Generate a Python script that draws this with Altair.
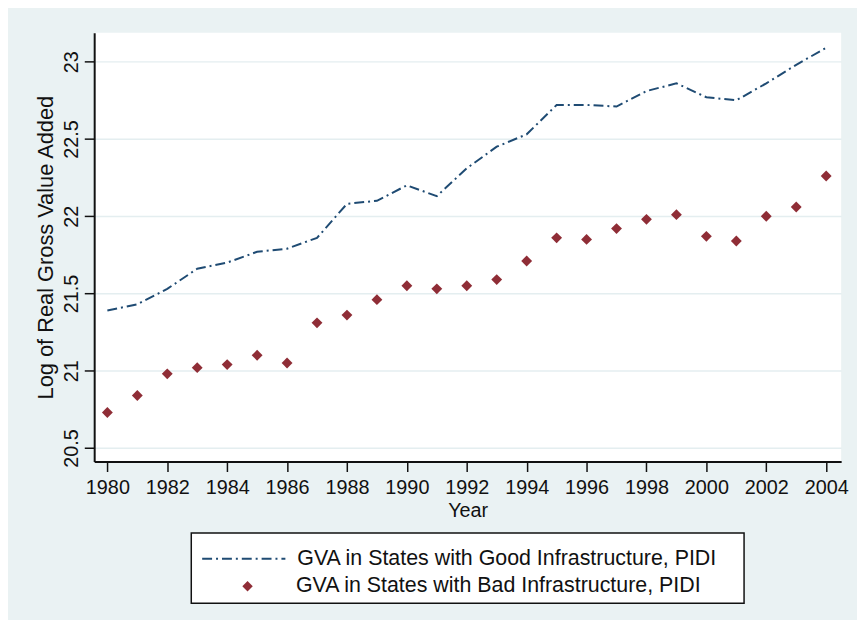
import altair as alt
import pandas as pd

years = list(range(1980, 2005))
good_gva = [21.39, 21.43, 21.53, 21.66, 21.70, 21.77, 21.79, 21.86, 22.08, 22.10,
            22.20, 22.13, 22.31, 22.45, 22.53, 22.72, 22.72, 22.71, 22.81, 22.86,
            22.77, 22.75, 22.86, 22.98, 23.09]
bad_gva = [20.73, 20.84, 20.98, 21.02, 21.04, 21.10, 21.05, 21.31, 21.36, 21.46,
           21.55, 21.53, 21.55, 21.59, 21.71, 21.86, 21.85, 21.92, 21.98, 22.01,
           21.87, 21.84, 22.00, 22.06, 22.26]
good_label = "GVA in States with Good Infrastructure, PIDI"
bad_label = "GVA in States with Bad Infrastructure, PIDI"
x_ticks = list(range(1980, 2005, 2))
y_ticks = [20.5, 21, 21.5, 22, 22.5, 23]

FONT = "Liberation Sans"
NAVY = "#1f4b73"
MAROON = "#8f2d36"
DASH = [10, 4, 2, 4]

df_good = pd.DataFrame({"year": years, "gva": good_gva, "series": good_label})
df_bad = pd.DataFrame({"year": years, "gva": bad_gva, "series": bad_label})

x_scale = alt.Scale(domain=[1979.56, 2004.5], nice=False, zero=False)
y_scale = alt.Scale(domain=[20.412, 23.188], nice=False, zero=False)

x_axis = alt.Axis(values=x_ticks, format="d", title="Year", grid=False,
                  labelFont=FONT, labelFontSize=20, labelColor="#111",
                  titleFont=FONT, titleFontSize=20, titleFontWeight="normal", titleColor="#111",
                  tickSize=10, tickWidth=1.5, tickColor="#111",
                  domainColor="#111", domainWidth=2,
                  labelPadding=6, titlePadding=3, labelFlush=False, labelOverlap=False)
y_axis = alt.Axis(values=y_ticks, format="~g", title="Log of Real Gross Value Added",
                  grid=True, gridColor="#e4eef0", gridWidth=1.5,
                  labelFont=FONT, labelFontSize=20, labelColor="#111",
                  labelAngle=270, labelAlign="center", labelBaseline="bottom",
                  titleFont=FONT, titleFontSize=22, titleFontWeight="normal", titleColor="#111",
                  tickSize=10, tickWidth=1.5, tickColor="#111",
                  domainColor="#111", domainWidth=2,
                  labelPadding=3, titlePadding=4, labelFlush=False, labelOverlap=False)

frame = alt.Chart(pd.DataFrame({"k": [0]})).mark_rect(
    fill="white", stroke="#111", strokeWidth=1.5
).encode(x=alt.value(98), x2=alt.value(656), y=alt.value(505), y2=alt.value(576))

line = alt.Chart(df_good).mark_line(color=NAVY, strokeWidth=2).encode(
    x=alt.X("year:Q", scale=x_scale, axis=x_axis),
    y=alt.Y("gva:Q", scale=y_scale, axis=y_axis),
    strokeDash=alt.StrokeDash(
        "series:N",
        scale=alt.Scale(domain=[good_label], range=[DASH]),
        legend=alt.Legend(title=None, orient="none", legendX=108, legendY=488,
                          symbolType="stroke", symbolSize=7056, symbolStrokeWidth=2,
                          symbolStrokeColor=NAVY, symbolDash=DASH,
                          labelFont=FONT, labelFontSize=21.6, labelColor="#111",
                          labelLimit=700, labelOffset=11, padding=0),
    ),
)

points = alt.Chart(df_bad).mark_point(filled=True, size=120, color=MAROON, opacity=1).encode(
    x=alt.X("year:Q", scale=x_scale),
    y=alt.Y("gva:Q", scale=y_scale),
    shape=alt.Shape(
        "series:N",
        scale=alt.Scale(domain=[bad_label], range=["diamond"]),
        legend=alt.Legend(title=None, orient="none", legendX=144, legendY=548,
                          symbolSize=110, symbolFillColor=MAROON, symbolStrokeColor=MAROON,
                          symbolStrokeWidth=0, symbolOpacity=1,
                          labelFont=FONT, labelFontSize=21.6, labelColor="#111",
                          labelLimit=700, labelOffset=38, padding=0),
    ),
)

chart = alt.layer(frame, line, points).properties(
    width=754, height=433,
    autosize=alt.AutoSizeParams(type="none"),
    padding={"left": 87, "top": 22, "right": 16, "bottom": 157},
    background="#eaf2f3",
).configure_view(fill="white", stroke=None)

chart.save("out.html", embed_options={"renderer": "svg", "actions": False})
